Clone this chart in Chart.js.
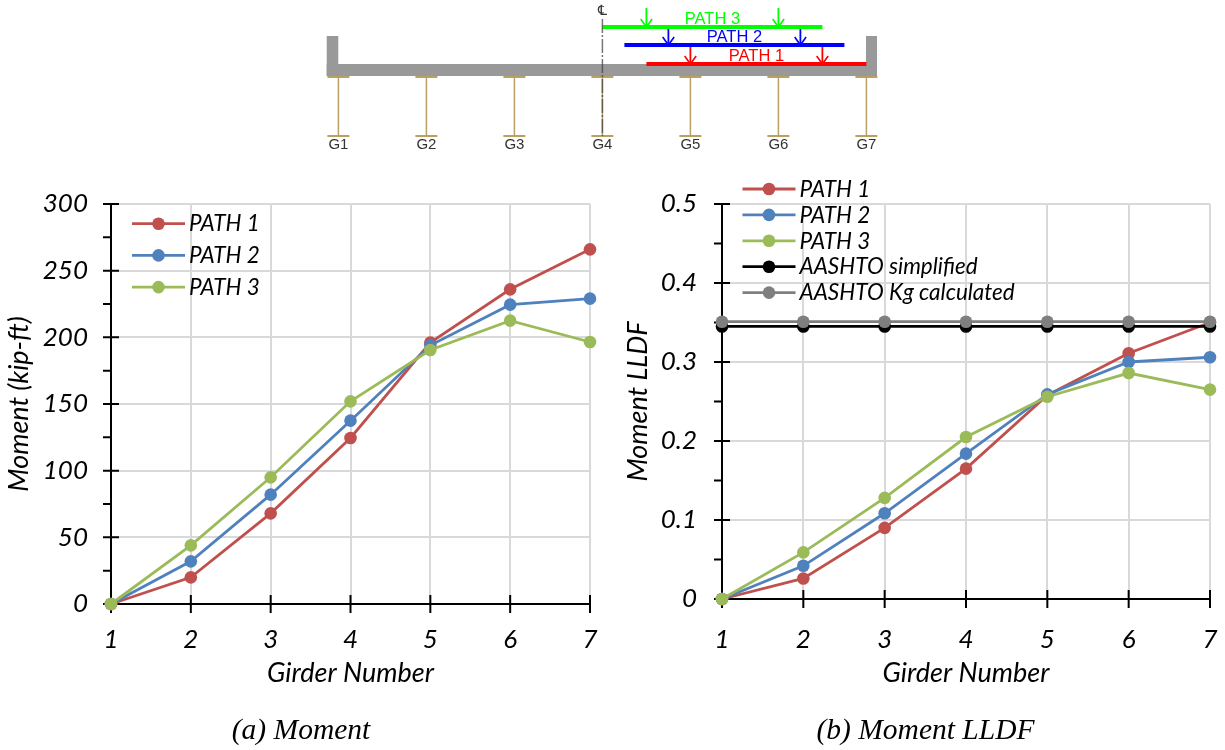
<!DOCTYPE html>
<html>
<head>
<meta charset="utf-8">
<script src="https://cdn.jsdelivr.net/npm/chart.js@4/dist/chart.umd.js"></script>
<style>
  html, body { margin: 0; padding: 0; background: #fff; }
  canvas { position: absolute; display: block; }
  #diagram { left: 0; top: 0; }
  #moment { left: 0; top: 170px; }
  #lldf { left: 625px; top: 170px; }
</style>
</head>
<body>
<canvas id="diagram" width="1225" height="170"></canvas>
<canvas id="moment" width="602" height="580"></canvas>
<canvas id="lldf" width="600" height="580"></canvas>
<script>
const girders = ['1', '2', '3', '4', '5', '6', '7'];

// (a) moment, kip-ft
const momentPath1 = [0, 20, 68, 124.5, 196, 236, 266];
const momentPath2 = [0, 32, 82, 137.5, 194, 224.5, 229];
const momentPath3 = [0, 44, 95, 152, 190.5, 212.5, 196.5];

// (b) moment LLDF
const lldfPath1 = [0, 0.026, 0.09, 0.165, 0.258, 0.311, 0.35];
const lldfPath2 = [0, 0.042, 0.1085, 0.184, 0.259, 0.3, 0.306];
const lldfPath3 = [0, 0.059, 0.128, 0.205, 0.256, 0.286, 0.265];
const lldfSimplified = [0.345, 0.345, 0.345, 0.345, 0.345, 0.345, 0.345];
const lldfKgCalculated = [0.351, 0.351, 0.351, 0.351, 0.351, 0.351, 0.351];

// bridge section, x in girder numbers, y in levels measured from the top
const girderPositions = [1, 2, 3, 4, 5, 6, 7];
const girderNames = ['G1', 'G2', 'G3', 'G4', 'G5', 'G6', 'G7'];
const pathNames = ['PATH 1', 'PATH 2', 'PATH 3'];
const pathColors = ['#ff0000', '#0000ff', '#00ff00'];
const pathStarts = [4.5, 4.25, 4];
const pathEnds = [7, 6.75, 6.5];
const pathLevels = [64, 45, 27];
const wheelLeft = [5, 4.75, 4.5];
const wheelRight = [6.5, 6.25, 6];

const RED = '#c0504d', BLUE = '#4f81bd', GREEN = '#9bbb59', BLACK = '#000000', GREY = '#7f7f7f';
const GRID = '#d9d9d9';
const SANS = 'Lato';
const SERIF = '"Liberation Serif"';

function series(label, data, color, order) {
    return {
        label, data, order,
        borderColor: color,
        backgroundColor: color,
        borderWidth: 2.8,
        pointRadius: 6.3,
        pointHoverRadius: 6.3,
        pointBorderWidth: 0,
        tension: 0,
        clip: false
    };
}

// crossing major ticks and short outside minor ticks, Excel style
const axisTicks = {
    id: 'axisTicks',
    beforeDatasetsDraw(chart) {
        const { ctx, scales: { x, y } } = chart;
        const axisX = chart.chartArea.left;
        const axisY = chart.chartArea.bottom;
        ctx.save();
        ctx.strokeStyle = BLACK;
        ctx.lineWidth = 2;
        ctx.beginPath();
        y.ticks.forEach((tick, i) => {
            const py = y.getPixelForValue(tick.value);
            ctx.moveTo(axisX - 8, py);
            ctx.lineTo(i % 2 === 0 ? axisX + 8 : axisX, py);
        });
        x.ticks.forEach((tick, i) => {
            const px = x.getPixelForTick(i);
            ctx.moveTo(px, axisY - 9);
            ctx.lineTo(px, axisY + 9);
        });
        ctx.stroke();
        ctx.restore();
    }
};

// line + marker + label legend, the built-in one can't draw both
const lineLegend = {
    id: 'lineLegend',
    afterDatasetsDraw(chart, args, opts) {
        const { ctx } = chart;
        ctx.save();
        ctx.font = `italic ${opts.size}px ${SANS}`;
        ctx.textBaseline = 'middle';
        chart.data.datasets.forEach((ds, i) => {
            const y = opts.y + i * opts.step;
            ctx.strokeStyle = ds.borderColor;
            ctx.lineWidth = 2.8;
            ctx.beginPath();
            ctx.moveTo(opts.x, y);
            ctx.lineTo(opts.x + 53, y);
            ctx.stroke();
            ctx.fillStyle = ds.borderColor;
            ctx.beginPath();
            ctx.arc(opts.x + 26.5, y, 6.3, 0, Math.PI * 2);
            ctx.fill();
            ctx.fillStyle = BLACK;
            ctx.fillText(ds.label, opts.x + 57, y + 0.5);
        });
        ctx.restore();
    }
};

// caption under the plot, not centred on the plot so the title block won't do
const caption = {
    id: 'caption',
    afterDraw(chart, args, opts) {
        const { ctx } = chart;
        ctx.save();
        ctx.font = `italic 29.5px ${SERIF}`;
        ctx.textAlign = 'center';
        ctx.textBaseline = 'middle';
        ctx.fillStyle = BLACK;
        ctx.fillText(opts.text, opts.x, 561);
        ctx.restore();
    }
};

function makeChart(id, cfg) {
    return new Chart(document.getElementById(id), {
        type: 'line',
        data: { labels: girders, datasets: cfg.datasets },
        plugins: [axisTicks, lineLegend, caption],
        options: {
            responsive: false,
            animation: false,
            events: [],
            layout: { padding: { top: 34, right: cfg.right, left: 0, bottom: 36.7 } },
            plugins: {
                legend: { display: false },
                tooltip: { enabled: false },
                lineLegend: cfg.legend,
                caption: cfg.caption
            },
            scales: {
                x: {
                    grid: { color: GRID, lineWidth: 2, drawTicks: false },
                    border: { color: BLACK, width: 2 },
                    ticks: {
                        color: BLACK, padding: cfg.xTickPad, maxRotation: 0,
                        font: { family: SANS, style: 'italic', size: 26 }
                    },
                    title: {
                        display: true, text: 'Girder Number', color: BLACK,
                        font: { family: SANS, style: 'italic', size: 27 },
                        padding: { top: 0, bottom: 24 }
                    },
                    afterFit(scale) {
                        scale.height = cfg.xHeight;
                        scale.paddingLeft = 0;
                        scale.paddingRight = 0;
                    }
                },
                y: {
                    min: 0,
                    max: cfg.max,
                    grid: {
                        lineWidth: 2, drawTicks: false,
                        color: ctx => ctx.index % 2 === 0 ? GRID : 'transparent'
                    },
                    border: { color: BLACK, width: 2 },
                    ticks: {
                        color: BLACK, padding: cfg.yTickPad, stepSize: cfg.step, autoSkip: false,
                        font: { family: SANS, style: 'italic', size: 26 },
                        callback: (v, i) => i % 2 === 0 ? String(+v.toFixed(2)) : ''
                    },
                    title: {
                        display: true, text: cfg.yTitle, color: BLACK,
                        font: { family: SANS, style: 'italic', size: 27, lineHeight: 1 },
                        padding: { top: cfg.yTitleLeft, bottom: 0 }
                    },
                    afterFit(scale) {
                        scale.width = cfg.yWidth;
                        scale.paddingTop = 0;
                        scale.paddingBottom = 0;
                    }
                }
            }
        }
    });
}

makeChart('moment', {
    caption: { text: '(a) Moment', x: 301 },
    yTitle: 'Moment (kip-ft)',
    max: 300, step: 25, right: 12, yWidth: 111, xHeight: 109.3, xTickPad: 20, yTickPad: 23,
    yTitleLeft: 6,
    legend: { x: 132, y: 53.7, step: 31.7, size: 22.5 },
    datasets: [
        series('PATH 1', momentPath1, RED, 3),
        series('PATH 2', momentPath2, BLUE, 2),
        series('PATH 3', momentPath3, GREEN, 1)
    ]
});

makeChart('lldf', {
    caption: { text: '(b) Moment LLDF', x: 300.5 },
    yTitle: 'Moment LLDF',
    max: 0.5, step: 0.05, right: 15, yWidth: 97, xHeight: 114.3, xTickPad: 25, yTickPad: 25,
    yTitleLeft: 0,
    legend: { x: 117.5, y: 19, step: 25.9, size: 22.5 },
    datasets: [
        series('PATH 1', lldfPath1, RED, 5),
        series('PATH 2', lldfPath2, BLUE, 4),
        series('PATH 3', lldfPath3, GREEN, 3),
        series('AASHTO simplified', lldfSimplified, BLACK, 2),
        series('AASHTO Kg calculated', lldfKgCalculated, GREY, 1)
    ]
});

// --- bridge section ---
const DECK = '#999999', STEEL = '#b9a261';

function segment(points, color, width, dash) {
    return {
        data: points, borderColor: color, borderWidth: width, borderDash: dash || [],
        pointRadius: 0, borderCapStyle: 'butt', borderJoinStyle: 'miter', tension: 0, clip: false
    };
}

const sectionSets = [];
sectionSets.push(segment([{ x: 0.867, y: 70 }, { x: 7.12, y: 70 }], DECK, 12));
sectionSets.push(segment([{ x: 0.933, y: 36 }, { x: 0.933, y: 76 }], DECK, 11.6));
sectionSets.push(segment([{ x: 7.058, y: 36 }, { x: 7.058, y: 76 }], DECK, 11));
girderPositions.forEach(g => {
    sectionSets.push(segment([{ x: g, y: 76 }, { x: g, y: 136 }], STEEL, 1.5));
    sectionSets.push(segment([{ x: g - 0.125, y: 77 }, { x: g + 0.125, y: 77 }], STEEL, 2));
    sectionSets.push(segment([{ x: g - 0.125, y: 136 }, { x: g + 0.125, y: 136 }], STEEL, 2));
});
pathNames.forEach((name, i) => {
    const level = pathLevels[i];
    sectionSets.push(segment([{ x: pathStarts[i], y: level }, { x: pathEnds[i], y: level }], pathColors[i], 3.8));
    [wheelLeft[i], wheelRight[i]].forEach(w => {
        sectionSets.push(segment([{ x: w, y: level - 19 }, { x: w, y: level }], pathColors[i], 1.8));
        sectionSets.push(segment([{ x: w - 0.065, y: level - 8 }, { x: w, y: level }, { x: w + 0.065, y: level - 8 }], pathColors[i], 1.6));
    });
});
sectionSets.push(segment([{ x: 4, y: 19 }, { x: 4, y: 136 }], 'rgba(60,60,60,0.7)', 1.5, [14, 2, 2, 2]));
// chart.js paints the first dataset last, the deck has to stay underneath
sectionSets.reverse();

const sectionLabels = {
    id: 'sectionLabels',
    afterDatasetsDraw(chart) {
        const { ctx, scales: { x, y } } = chart;
        ctx.save();
        ctx.textAlign = 'center';
        ctx.textBaseline = 'middle';
        ctx.font = '15px "Liberation Sans"';
        ctx.fillStyle = '#333333';
        girderNames.forEach((name, i) => ctx.fillText(name, x.getPixelForValue(girderPositions[i]), y.getPixelForValue(144.5)));
        ctx.font = '16.5px "Liberation Sans"';
        pathNames.forEach((name, i) => {
            ctx.fillStyle = pathColors[i];
            ctx.fillText(name, x.getPixelForValue((pathStarts[i] + pathEnds[i]) / 2), y.getPixelForValue(pathLevels[i] - 7.5));
        });
        ctx.font = '14px "DejaVu Sans"';
        ctx.fillStyle = '#333333';
        ctx.fillText('\u2104', x.getPixelForValue(4), y.getPixelForValue(11));
        ctx.restore();
    }
};

new Chart(document.getElementById('diagram'), {
    type: 'line',
    data: { datasets: sectionSets },
    plugins: [sectionLabels],
    options: {
        responsive: false,
        animation: false,
        events: [],
        plugins: { legend: { display: false }, tooltip: { enabled: false } },
        scales: {
            x: { type: 'linear', display: false, min: 1 - 338.4 / 88, max: 1 + 886.6 / 88 },
            y: { type: 'linear', display: false, min: 0, max: 170, reverse: true }
        }
    }
});
</script>
</body>
</html>
